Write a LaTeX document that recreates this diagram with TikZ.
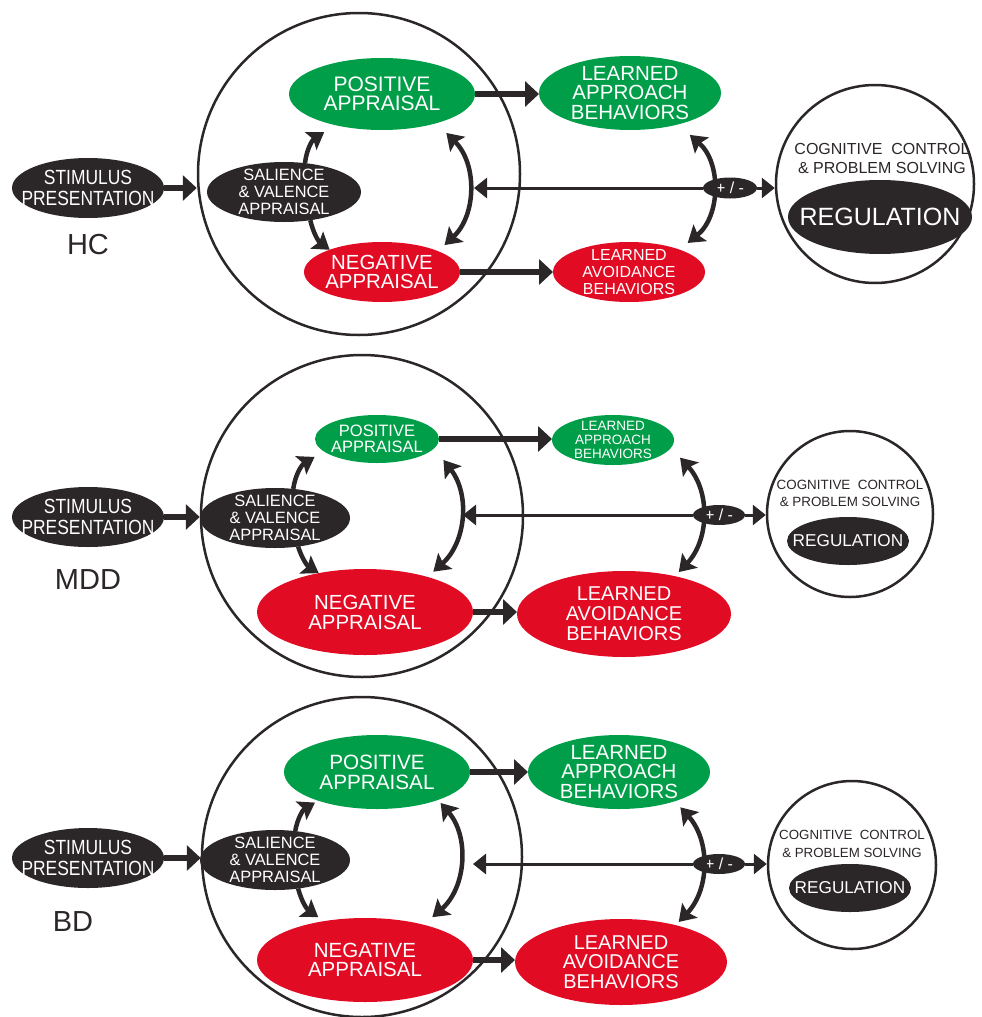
\documentclass[tikz,border=0pt]{standalone}
\usepackage{fontspec}
\setmainfont{Liberation Sans}
\newfontfamily\narrowsans[FakeStretch=0.85]{Liberation Sans}
\usetikzlibrary{arrows.meta,shapes.geometric}
\definecolor{inkdark}{RGB}{43,38,39}
\definecolor{posgreen}{RGB}{0,158,73}
\definecolor{negred}{RGB}{226,11,36}
\newcommand{\fsz}[2]{\fontsize{#1}{#2}\selectfont}

\tikzset{
  blob/.style={ellipse, inner sep=0pt, outer sep=0pt},
  darkblob/.style={blob, fill=inkdark},
  posblob/.style={blob, fill=posgreen},
  negblob/.style={blob, fill=negred},
  inside/.style={text=white, align=center, inner sep=0pt},
  ring/.style={circle, draw=inkdark, line width=2.5pt, inner sep=0pt},
  fat/.style={draw=inkdark, line width=5.5pt, -{Triangle[length=14pt,width=25pt]}},
  swing/.style={draw=inkdark, line width=4.5pt, {Stealth[length=16pt,width=21pt,inset=3pt]}-{Stealth[length=16pt,width=21pt,inset=3pt]}},
  push/.style={draw=inkdark, line width=4.5pt, -{Stealth[length=16pt,width=21pt,inset=3pt]}},
  thinline/.style={draw=inkdark, line width=3pt, -{Triangle[length=13pt,width=20pt]}},
  group/.style={font=\fsz{29}{32}, text=inkdark, inner sep=0pt},
  cogtext/.style={align=center, text=inkdark, inner sep=0pt},
}

\begin{document}
\begin{tikzpicture}[x=1pt,y=-1pt]
    \useasboundingbox (0,0) rectangle (982,1017);

    % HC panel
    \node[ring, minimum size=322pt] (bigc1) at (359,174) {};
    \node[darkblob, minimum width=152pt, minimum height=60pt, label={[inside,font=\narrowsans\fsz{20.5}{20.5}]center:STIMULUS\\PRESENTATION}] (stim1) at (88,188) {};
    \node[group] (hc) at (88,245) {HC};
    \node[darkblob, minimum width=154pt, minimum height=60pt, label={[inside,font=\fsz{16.4}{16.7}]center:SALIENCE\\\& VALENCE\\APPRAISAL}] (sal1) at (284,192) {};
    \node[posblob, minimum width=186pt, minimum height=72pt, label={[inside,font=\fsz{21}{19.3}]center:POSITIVE\\APPRAISAL}] (pos1) at (382,94) {};
    \node[negblob, minimum width=156pt, minimum height=60pt, label={[inside,font=\fsz{20.4}{19}]center:NEGATIVE\\APPRAISAL}] (neg1) at (382,272) {};
    \node[posblob, minimum width=182pt, minimum height=74pt, label={[inside,font=\fsz{20.5}{19.5}]center:LEARNED\\APPROACH\\BEHAVIORS}] (app1) at (630,93) {};
    \node[negblob, minimum width=152pt, minimum height=60pt, label={[inside,font=\fsz{16}{16.7}]center:LEARNED\\AVOIDANCE\\BEHAVIORS}] (avo1) at (629,272) {};
    \node[ring, minimum size=198pt] (cc1) at (875,184) {};
    \node[cogtext, font=\fsz{16}{19}] (cog1) at (882,158) {COGNITIVE\ \ CONTROL\\\& PROBLEM SOLVING};
    \node[darkblob, minimum width=184pt, minimum height=74pt, label={[inside,font=\fsz{25}{28}]center:REGULATION}] (reg1) at (880,217) {};
    \node[darkblob, minimum width=54pt, minimum height=21pt, label={[inside,font=\fsz{16}{18}]center:+ / -}] (pm1) at (730,188) {};
    \coordinate (hit1) at (474,188);

    \draw[fat] (stim1.east) -- (stim1.east -| bigc1.west);
    \draw[push] (sal1.54) to[bend left=25] ([yshift=-10pt]pos1.206);
    \draw[push] (sal1.-47) to[bend right=20] (neg1.157);
    \draw[swing] ([yshift=-13pt]pos1.-22) to[bend left=46] ([yshift=9pt]neg1.16);
    \draw[fat] (pos1.east) -- (pos1.east -| app1.west);
    \draw[fat] (neg1.east) -- (neg1.east -| avo1.west);
    \draw[swing] ([yshift=-14pt]app1.-25) to[bend left=50] ([yshift=10pt]avo1.18);
    \draw[thinline] (pm1.west) -- (hit1);
    \draw[thinline] (pm1.east) -- (pm1.east -| cc1.west);

    % MDD panel
    \node[ring, minimum size=322pt] (bigc2) at (362,516) {};
    \node[darkblob, minimum width=152pt, minimum height=60pt, label={[inside,font=\narrowsans\fsz{20.5}{20.5}]center:STIMULUS\\PRESENTATION}] (stim2) at (88,517) {};
    \node[group] (mdd) at (88,580) {MDD};
    \node[darkblob, minimum width=150pt, minimum height=60pt, label={[inside,font=\fsz{16.4}{16.7}]center:SALIENCE\\\& VALENCE\\APPRAISAL}] (sal2) at (275,518) {};
    \node[posblob, minimum width=124pt, minimum height=48pt, label={[inside,font=\fsz{16.5}{15.7}]center:POSITIVE\\APPRAISAL}] (pos2) at (377,439) {};
    \node[negblob, minimum width=216pt, minimum height=86pt, label={[inside,font=\fsz{20.4}{20}]center:NEGATIVE\\APPRAISAL}] (neg2) at (365,612) {};
    \node[posblob, minimum width=122pt, minimum height=50pt, label={[inside,font=\fsz{13.5}{13.7}]center:LEARNED\\APPROACH\\BEHAVIORS}] (app2) at (613,440) {};
    \node[negblob, minimum width=214pt, minimum height=86pt, label={[inside,font=\fsz{20}{20}]center:LEARNED\\AVOIDANCE\\BEHAVIORS}] (avo2) at (624,614) {};
    \node[ring, minimum size=166pt] (cc2) at (850,514) {};
    \node[cogtext, font=\fsz{13.4}{16.7}] (cog2) at (850,493.5) {COGNITIVE\ \ CONTROL\\\& PROBLEM SOLVING};
    \node[darkblob, minimum width=122pt, minimum height=48pt, label={[inside,font=\fsz{17.2}{20}]center:REGULATION}] (reg2) at (848,541) {};
    \node[darkblob, minimum width=52pt, minimum height=20pt, label={[inside,font=\fsz{16}{18}]center:+ / -}] (pm2) at (719,515) {};
    \coordinate (hit2) at (463,515);

    \draw[fat] (stim2.east) -- (stim2.east -| bigc2.west);
    \draw[push] (sal2.58) to[bend left=25] ([xshift=-6pt,yshift=-8pt]pos2.190);
    \draw[push] (sal2.-51) to[bend right=20] (neg2.140);
    \draw[swing] ([xshift=10pt,yshift=-11pt]pos2.-10) to[bend left=43] ([yshift=7pt]neg2.26);
    \draw[fat] (pos2.east) -- (pos2.east -| app2.west);
    \draw[fat] (neg2.east) -- (neg2.east -| avo2.west);
    \draw[swing] ([xshift=16pt,yshift=-4pt]app2.-15) to[bend left=43] ([yshift=5pt]avo2.34);
    \draw[thinline] (pm2.west) -- (hit2);
    \draw[thinline] (pm2.east) -- (pm2.east -| cc2.west);

    % BD panel
    \node[ring, minimum size=320pt] (bigc3) at (362,857) {};
    \node[darkblob, minimum width=152pt, minimum height=60pt, label={[inside,font=\narrowsans\fsz{20.5}{20.5}]center:STIMULUS\\PRESENTATION}] (stim3) at (88,858) {};
    \node[group] (bd) at (73,922) {BD};
    \node[darkblob, minimum width=150pt, minimum height=60pt, label={[inside,font=\fsz{16.4}{16.7}]center:SALIENCE\\\& VALENCE\\APPRAISAL}] (sal3) at (275,860) {};
    \node[posblob, minimum width=186pt, minimum height=74pt, label={[inside,font=\fsz{20.7}{20}]center:POSITIVE\\APPRAISAL}] (pos3) at (377,772) {};
    \node[negblob, minimum width=216pt, minimum height=84pt, label={[inside,font=\fsz{20.5}{19.5}]center:NEGATIVE\\APPRAISAL}] (neg3) at (365,960) {};
    \node[posblob, minimum width=182pt, minimum height=74pt, label={[inside,font=\fsz{20.5}{19.3}]center:LEARNED\\APPROACH\\BEHAVIORS}] (app3) at (619,772) {};
    \node[negblob, minimum width=212pt, minimum height=86pt, label={[inside,font=\fsz{20}{19.5}]center:LEARNED\\AVOIDANCE\\BEHAVIORS}] (avo3) at (621,962) {};
    \node[ring, minimum size=168pt] (cc3) at (852,865) {};
    \node[cogtext, font=\fsz{13.3}{17.3}] (cog3) at (852,844) {COGNITIVE\ \ CONTROL\\\& PROBLEM SOLVING};
    \node[darkblob, minimum width=122pt, minimum height=48pt, label={[inside,font=\fsz{17.2}{20}]center:REGULATION}] (reg3) at (850,888) {};
    \node[darkblob, minimum width=52pt, minimum height=20pt, label={[inside,font=\fsz{16}{18}]center:+ / -}] (pm3) at (719,864) {};
    \coordinate (hit3) at (473,864);

    \draw[fat] (stim3.east) -- (stim3.east -| bigc3.west);
    \draw[push] (sal3.55) to[bend left=25] ([yshift=-3pt]pos3.204);
    \draw[push] (sal3.-51) to[bend right=20] ([yshift=5pt]neg3.141);
    \draw[swing] ([yshift=-4pt]pos3.-23) to[bend left=45] ([yshift=10pt]neg3.26);
    \draw[fat] (pos3.east) -- (pos3.east -| app3.west);
    \draw[fat] (neg3.east) -- (neg3.east -| avo3.west);
    \draw[swing] ([yshift=-8pt]app3.-24) to[bend left=43] ([yshift=4pt]avo3.32);
    \draw[thinline] (pm3.west) -- (hit3);
    \draw[thinline] (pm3.east) -- (pm3.east -| cc3.west);
\end{tikzpicture}
\end{document}
